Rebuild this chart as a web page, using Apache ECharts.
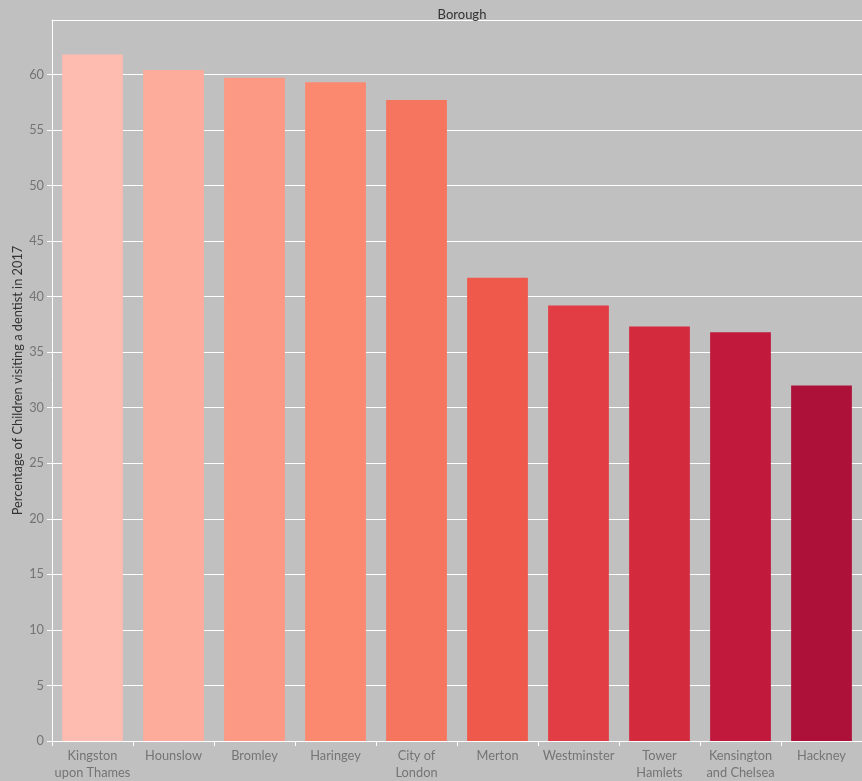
<!DOCTYPE html>
<html>
<head>
<meta charset="utf-8">
<script src="https://cdn.jsdelivr.net/npm/echarts@6/dist/echarts.min.js"></script>
<style>
  html, body { margin: 0; padding: 0; background: #c0c0c0; }
  #chart { width: 862px; height: 781px; }
</style>
</head>
<body>
<div id="chart"></div>
<script>
// boroughs, sorted by share of children seeing a dentist
const boroughs = ['Kingston\nupon Thames', 'Hounslow', 'Bromley', 'Haringey', 'City of\nLondon',
  'Merton', 'Westminster', 'Tower\nHamlets', 'Kensington\nand Chelsea', 'Hackney'];
const pct_2017 = [61.8, 60.4, 59.7, 59.3, 57.7, 41.7, 39.2, 37.3, 36.8, 32.0];
const bar_colors = ['#fdbcaf', '#fdab9b', '#fc9984', '#fb8970', '#f6755f',
  '#ef594b', '#e23d44', '#d42a3e', '#c1193c', '#ad1038'];

const font = 'Lato, "Noto Sans", sans-serif';

var chartDom = document.getElementById('chart');
var myChart = echarts.init(chartDom);
var option;

option = {
  backgroundColor: '#c0c0c0',
  title: {
    text: 'Borough',
    left: 457,
    top: 3,
    textAlign: 'center',
    textStyle: { fontSize: 13, fontWeight: 'normal', color: '#333', fontFamily: font }
  },
  grid: { left: 52, right: 0, top: 20, bottom: 40, containLabel: false, outerBoundsMode: 'none' },
  xAxis: [
    {
      type: 'category',
      data: boroughs,
      axisLine: { lineStyle: { color: '#ffffff', width: 1 } },
      axisTick: { show: true, length: 5, lineStyle: { color: '#ffffff' } },
      axisLabel: {
        color: '#747474',
        fontSize: 12.8,
        lineHeight: 17,
        margin: 6,
        interval: 0,
        fontFamily: font
      }
    },
    {
      // top border line of the plot
      type: 'category',
      data: boroughs,
      position: 'top',
      axisLine: { lineStyle: { color: '#ffffff', width: 1 } },
      axisTick: { show: false },
      axisLabel: { show: false }
    }
  ],
  yAxis: {
    type: 'value',
    min: 0,
    max: 64.9,
    interval: 5,
    name: 'Percentage of Children visiting a dentist in 2017',
    nameLocation: 'middle',
    nameGap: 28,
    nameMoveOverlap: false,
    nameTextStyle: { color: '#333', fontSize: 12.8, fontFamily: font },
    axisLine: { show: true, lineStyle: { color: '#ffffff', width: 1 } },
    axisTick: { show: true, length: 5, lineStyle: { color: '#ffffff' } },
    axisLabel: {
      color: '#747474',
      fontSize: 12.8,
      margin: 8,
      fontFamily: font,
      showMaxLabel: false
    },
    splitLine: { show: true, lineStyle: { color: '#ffffff', width: 1 } }
  },
  series: [
    {
      type: 'bar',
      data: pct_2017.map((v, i) => ({ value: v, itemStyle: { color: bar_colors[i] } })),
      barCategoryGap: '25%',
      silent: true
    }
  ]
};
option && myChart.setOption(option);
</script>
</body>
</html>
